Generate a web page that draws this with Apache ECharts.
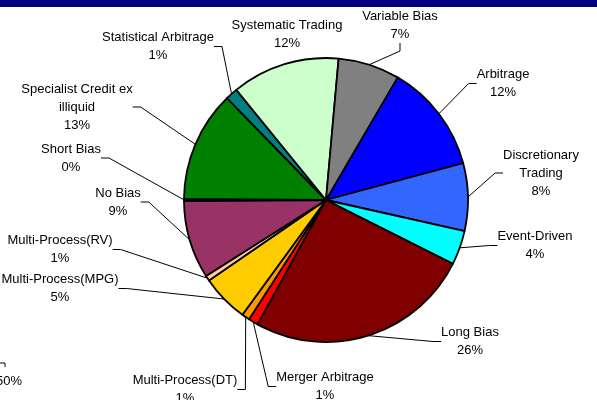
<!DOCTYPE html>
<html>
<head>
<meta charset="utf-8">
<script src="https://cdn.jsdelivr.net/npm/echarts@6/dist/echarts.min.js"></script>
<style>html,body{margin:0;padding:0;background:#fff;}#c{width:597px;height:400px;}</style>
</head>
<body>
<div id="c"></div>
<script>
var categories = ['Arbitrage', 'Discretionary\nTrading', 'Event-Driven', 'Long Bias', 'Merger Arbitrage',
  'Multi-Process(DT)', 'Multi-Process(MPG)', 'Multi-Process(RV)', 'No Bias', 'Short Bias',
  'Specialist Credit ex\nilliquid', 'Statistical Arbitrage', 'Systematic Trading', 'Variable Bias'];
var shares = [12.4, 7.7, 3.9, 25.6, 1.1, 0.9, 5.4, 0.6, 8.9, 0.2, 12.6, 1.4, 12.3, 7.0];
var colors = ['#0000FF', '#3366FF', '#00FFFF', '#800000', '#FF0000', '#FF9900', '#FFCC00', '#FFCC99',
  '#993366', '#000000', '#008000', '#008080', '#CCFFCC', '#808080'];
// label block centres (layout only)
var labelPos = [[503, 83.5], [541, 173], [535, 245.5], [470, 341.5], [325, 386.5], [185, 389.5],
  [60, 288.5], [60, 249.5], [118, 202], [71, 158], [77, 107], [158, 46.5], [287, 34.5], [400, 25]];
var noLine = [12];

var chart = echarts.init(document.getElementById('c'), null, {renderer: 'canvas'});
var data = categories.map(function (n, i) {
  var d = {name: n, value: shares[i], itemStyle: {color: colors[i]}};
  if (noLine.indexOf(i) >= 0) d.labelLine = {show: false};
  return d;
});
chart.setOption({
  animation: false,
  graphic: [
    {type: 'rect', shape: {x: 0, y: 0, width: 597, height: 7}, style: {fill: '#000080'}},
    {type: 'polyline', shape: {points: [[0, 363], [5, 363], [5, 367]]}, style: {stroke: '#000', lineWidth: 1, fill: null}},
    {type: 'text', x: 9, y: 381, style: {text: '50%', font: '13px "Liberation Sans", Arial', fill: '#000', textAlign: 'center', textVerticalAlign: 'middle'}}
  ],
  series: [{
    type: 'pie',
    center: [326, 200],
    radius: 142,
    startAngle: 59.7,
    clockwise: true,
    avoidLabelOverlap: false,
    percentPrecision: 0,
    itemStyle: {borderColor: '#000', borderWidth: 1.8},
    emphasis: {disabled: true},
    label: {
      show: true,
      position: 'outside',
      color: '#000',
      fontFamily: '"Liberation Sans", Arial, sans-serif',
      fontSize: 13,
      lineHeight: 18,
      align: 'center',
      formatter: function (p) { return p.name + '\n' + Math.round(p.value) + '%'; }
    },
    labelLine: {show: true, length: 8, length2: 8, smooth: false, lineStyle: {color: '#000', width: 1}},
    labelLayout: function (p) {
      var pos = labelPos[p.dataIndex];
      return {x: pos[0], y: pos[1], align: 'center', verticalAlign: 'middle'};
    },
    data: data
  }]
});
</script>
</body>
</html>
